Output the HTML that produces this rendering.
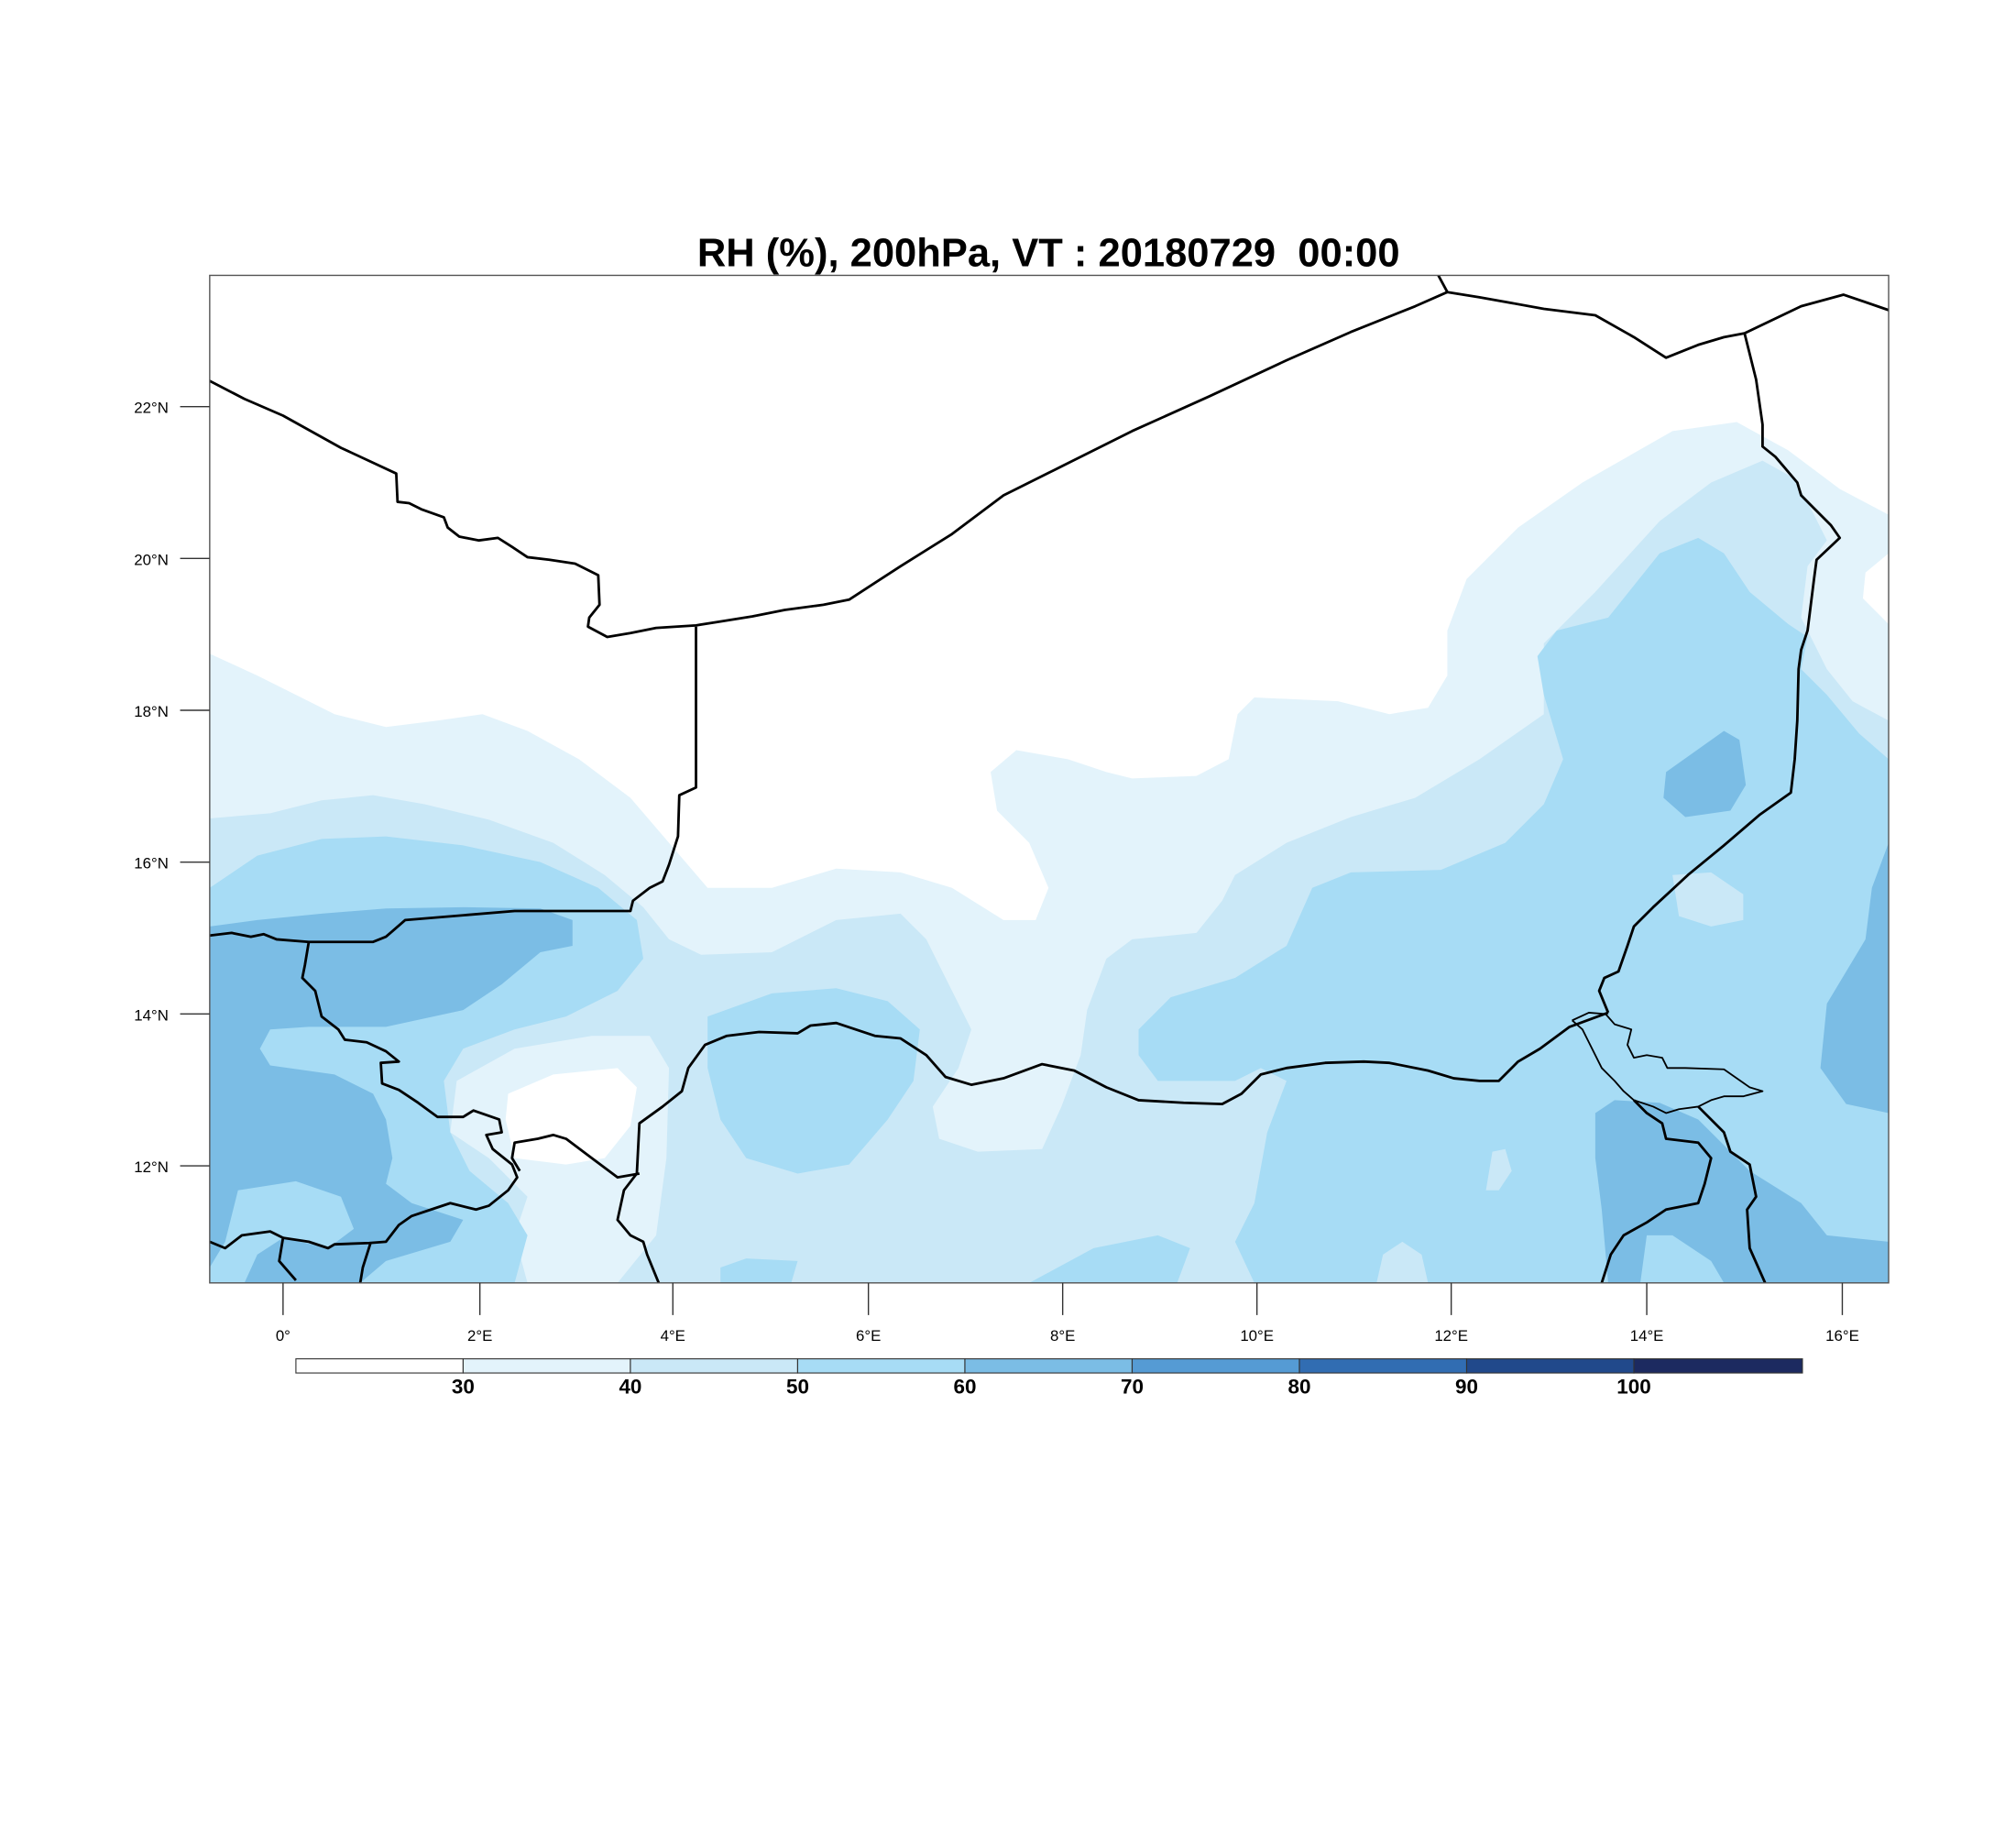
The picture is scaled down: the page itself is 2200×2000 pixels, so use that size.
<!DOCTYPE html>
<html><head><meta charset="utf-8"><style>html,body{margin:0;padding:0;background:#fff}svg{display:block}</style></head>
<body>
<svg width="2200" height="2000" viewBox="0 0 1567 1424.5" preserveAspectRatio="none" xmlns="http://www.w3.org/2000/svg" font-family="Liberation Sans, sans-serif">
<defs><clipPath id="c"><rect x="163" y="214" width="1305" height="783"/></clipPath></defs>
<text x="815" y="207" text-anchor="middle" font-size="31" font-weight="bold" xml:space="preserve" style="white-space:pre">RH (%), 200hPa, VT : 20180729  00:00</text>
<g clip-path="url(#c)" stroke="none">
<polygon fill="#e3f3fb" points="163,508 200,525 260,555 300,565 340,560 375,555 410,568 450,590 490,620 520,655 550,690 600,690 650,675 700,678 740,690 780,715 805,715 815,690 800,655 775,630 770,600 790,583 830,590 860,600 880,605 930,603 955,590 962,555 975,542 1040,545 1080,555 1110,550 1125,525 1125,490 1140,450 1180,410 1230,375 1300,335 1350,328 1390,350 1430,380 1468,400 1468,997 163,997"/>
<polygon fill="#cae8f7" points="163,636 210,632 250,622 290,618 330,625 380,637 430,655 470,680 500,705 520,730 545,742 600,740 650,715 700,710 720,730 740,770 755,800 745,830 725,860 730,885 760,895 810,893 825,860 840,820 845,785 860,745 880,730 930,725 950,700 960,680 1000,655 1050,635 1100,620 1150,590 1200,555 1200,500 1240,460 1290,405 1330,375 1370,358 1395,372 1410,400 1420,420 1405,440 1400,480 1420,520 1440,545 1468,560 1468,997 163,997"/>
<polygon fill="#e3f3fb" points="355,840 400,815 460,805 505,805 520,830 518,900 510,960 480,997 410,997 400,960 410,930 380,900 350,880"/>
<polygon fill="#fff" points="395,850 430,835 480,830 495,845 490,875 470,900 440,905 400,900 393,870"/>
<polygon fill="#fff" points="1468,430 1450,445 1448,465 1468,485"/>
<polygon fill="#a7dcf5" points="163,690 200,665 250,652 300,650 360,657 420,670 465,690 495,715 500,745 480,770 440,790 400,800 360,815 345,840 350,880 365,910 395,935 410,960 400,997 163,997"/>
<polygon fill="#a7dcf5" points="550,790 600,772 650,768 690,778 715,800 710,840 690,870 660,905 620,912 580,900 560,870 550,830"/>
<polygon fill="#a7dcf5" points="560,985 580,978 620,980 615,997 560,997"/>
<polygon fill="#a7dcf5" points="800,997 850,970 900,960 925,970 915,997"/>
<polygon fill="#a7dcf5" points="885,800 910,775 960,760 1000,735 1020,690 1050,678 1120,676 1170,655 1200,625 1215,590 1200,540 1195,510 1210,490 1250,480 1270,455 1290,430 1320,418 1340,430 1360,460 1390,485 1405,495 1400,520 1420,540 1445,570 1468,590 1468,997 975,997 960,965 975,935 985,880 1000,840 980,830 960,840 900,840 885,820"/>
<polygon fill="#cae8f7" points="1300,680 1330,678 1355,695 1355,715 1330,720 1305,712"/>
<polygon fill="#cae8f7" points="1070,997 1075,975 1090,965 1105,975 1110,997"/>
<polygon fill="#cae8f7" points="900,910 915,903 930,908 925,918 905,920"/>
<polygon fill="#cae8f7" points="1155,925 1160,895 1170,893 1175,910 1165,925"/>
<polygon fill="#7bbde5" points="163,720 200,715 250,710 300,706 360,705 420,706 445,715 445,735 420,740 390,765 360,785 300,798 240,798 210,800 202,815 210,828 260,835 290,850 300,870 305,900 300,920 320,935 360,948 350,965 300,980 280,997 163,997"/>
<polygon fill="#a7dcf5" points="163,985 175,965 185,925 230,918 265,930 275,955 255,970 220,962 200,975 190,997 163,997"/>
<polygon fill="#7bbde5" points="1295,600 1340,568 1352,575 1357,610 1345,630 1310,635 1293,620"/>
<polygon fill="#7bbde5" points="1468,655 1455,690 1450,730 1420,780 1415,830 1435,858 1468,865"/>
<polygon fill="#7bbde5" points="1240,865 1255,855 1290,857 1320,870 1340,890 1360,910 1400,935 1420,960 1468,965 1468,997 1340,997 1330,980 1300,960 1280,960 1275,997 1250,997 1245,940 1240,900"/>
</g>
<g clip-path="url(#c)" fill="none" stroke="#000" stroke-width="2" stroke-linejoin="round">
<polyline points="163,296 190,310 220,323 265,348 308,368 309,390 318,391 328,396 345,402 348,410 357,417 372,420 387,418 398,425 410,433 427,435 447,438 465,447 466,470 458,480 457,487 472,495 490,492 510,488 541,486 560,483 585,479 610,474 640,470 660,466 700,440 740,415 780,385 820,365 880,335 940,308 1000,280 1050,258 1100,238 1125,227 1118,214"/>
<polyline points="1125,227 1150,231 1200,240 1240,245 1270,262 1295,278 1320,268 1340,262 1356,259 1400,238 1433,229 1468,241"/>
<polyline points="1356,259 1365,295 1370,330 1370,347 1380,355 1397,375 1400,385 1410,395 1423,408 1430,418 1412,435 1410,450 1405,490 1400,505 1398,520 1397,560 1395,590 1392,616 1368,633 1340,657 1312,680 1285,705 1270,720 1265,735 1258,755 1247,760 1243,770 1250,787"/>
<polyline stroke-width="1.3" points="1222,793 1235,787 1248,788 1255,796 1268,800 1265,812 1270,822 1280,820 1292,822 1296,830 1310,830 1340,831 1360,845 1370,848 1355,852 1340,852 1330,855 1320,860 1305,862 1295,865 1285,860 1270,855 1262,848 1255,840 1245,830 1235,810 1230,800 1222,793"/>
<polyline points="1250,787 1220,798 1197,815 1180,825 1165,840 1150,840 1130,838 1110,832 1080,826 1060,825 1030,826 1000,830 980,835 965,850 950,858 920,857 885,855 860,845 835,832 810,827 780,838 755,843 735,837 720,820 700,807 680,805 650,795 630,797 620,803 590,802 565,805 548,812 535,830 530,848 515,860 497,873 495,912 485,925 480,948 490,960 500,965 503,975 512,997"/>
<polyline points="497,912 480,915 460,900 440,885 430,882 418,885 400,888 398,900 404,910"/>
<polyline points="163,727 180,725 195,728 205,726 215,730 240,732 290,732 300,728 315,715 400,708 490,708 492,700 505,690 515,685 520,672 527,650 528,618 541,612 541,487"/>
<polyline points="240,732 237,750 235,760 245,770 250,790 263,800 268,808 285,810 300,817 310,825 296,826 297,842 310,847 325,857 340,868 360,868 368,863 388,870 390,880 378,882 383,893 398,905 402,915 395,925 380,937 370,940 350,935 335,940 320,945 310,952 300,965 287,966 260,967 255,970 240,965 220,962"/>
<polyline points="288,966 282,985 280,997"/>
<polyline points="163,965 175,970 188,960 210,957 220,962 217,980 230,995"/>
<polyline points="1270,855 1280,865 1292,873 1295,885 1320,888 1330,900 1325,920 1320,935 1295,940 1280,950 1262,960 1252,975 1245,997"/>
<polyline points="1320,860 1340,880 1345,895 1360,905 1365,930 1358,940 1360,970 1372,997"/>
</g>
<rect x="163" y="214" width="1305" height="783" fill="none" stroke="#555" stroke-width="1"/>
<g stroke="#333" stroke-width="1">
<line x1="140" y1="316" x2="163" y2="316"/><line x1="140" y1="434" x2="163" y2="434"/><line x1="140" y1="552" x2="163" y2="552"/><line x1="140" y1="670" x2="163" y2="670"/><line x1="140" y1="788" x2="163" y2="788"/><line x1="140" y1="906" x2="163" y2="906"/>
<line x1="220" y1="997" x2="220" y2="1022"/><line x1="373" y1="997" x2="373" y2="1022"/><line x1="523" y1="997" x2="523" y2="1022"/><line x1="675" y1="997" x2="675" y2="1022"/><line x1="826" y1="997" x2="826" y2="1022"/><line x1="977" y1="997" x2="977" y2="1022"/><line x1="1128" y1="997" x2="1128" y2="1022"/><line x1="1280" y1="997" x2="1280" y2="1022"/><line x1="1432" y1="997" x2="1432" y2="1022"/>
</g>
<g font-size="12" text-anchor="end">
<text x="131" y="321">22°N</text><text x="131" y="439">20°N</text><text x="131" y="557">18°N</text><text x="131" y="675">16°N</text><text x="131" y="793">14°N</text><text x="131" y="911">12°N</text>
</g>
<g font-size="12" text-anchor="middle">
<text x="220" y="1042">0°</text><text x="373" y="1042">2°E</text><text x="523" y="1042">4°E</text><text x="675" y="1042">6°E</text><text x="826" y="1042">8°E</text><text x="977" y="1042">10°E</text><text x="1128" y="1042">12°E</text><text x="1280" y="1042">14°E</text><text x="1432" y="1042">16°E</text>
</g>
<g stroke="#333" stroke-width="0.8">
<rect x="230" y="1056" width="130" height="11" fill="#ffffff"/>
<rect x="360" y="1056" width="130" height="11" fill="#e3f3fb"/>
<rect x="490" y="1056" width="130" height="11" fill="#cae8f7"/>
<rect x="620" y="1056" width="130" height="11" fill="#a7dcf5"/>
<rect x="750" y="1056" width="130" height="11" fill="#7bbde5"/>
<rect x="880" y="1056" width="130" height="11" fill="#559bd4"/>
<rect x="1010" y="1056" width="130" height="11" fill="#316db2"/>
<rect x="1140" y="1056" width="130" height="11" fill="#21498b"/>
<rect x="1270" y="1056" width="131" height="11" fill="#1c2a60"/>
</g>
<g font-size="16" font-weight="bold" text-anchor="middle">
<text x="360" y="1083">30</text><text x="490" y="1083">40</text><text x="620" y="1083">50</text><text x="750" y="1083">60</text><text x="880" y="1083">70</text><text x="1010" y="1083">80</text><text x="1140" y="1083">90</text><text x="1270" y="1083">100</text>
</g>
</svg>
</body></html>
